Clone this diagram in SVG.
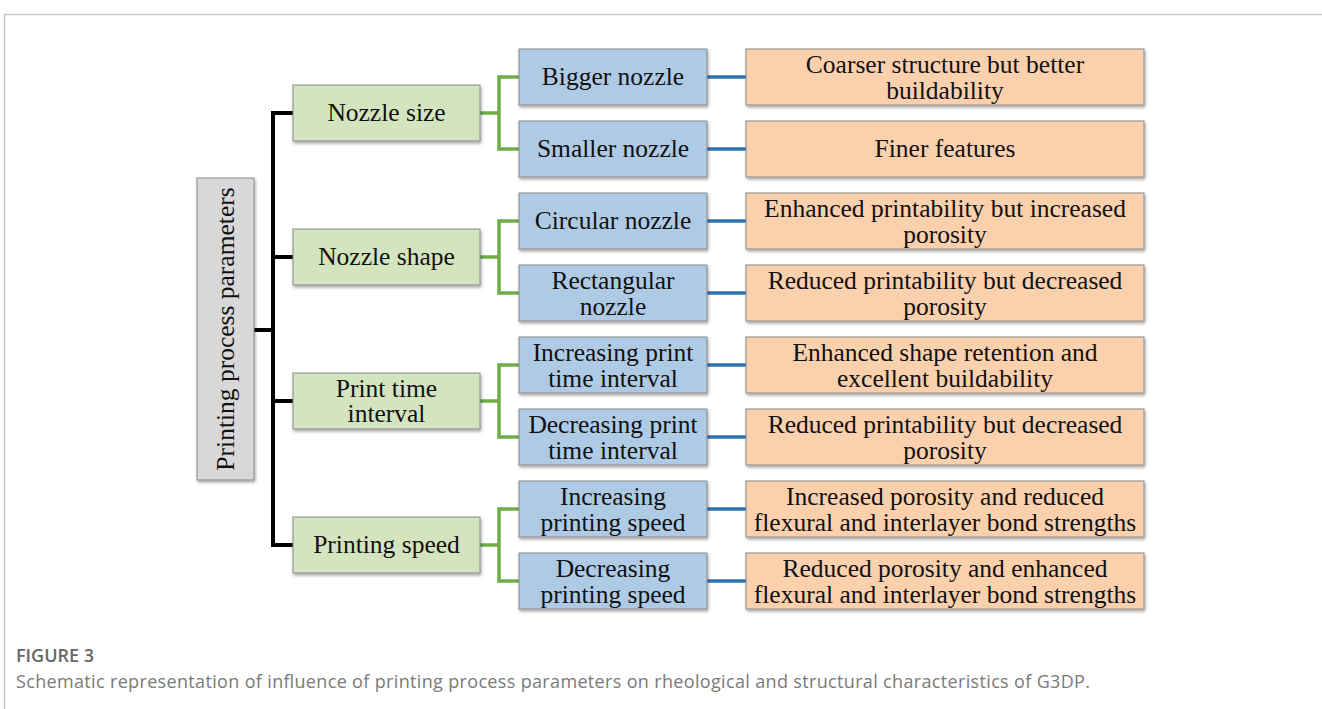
<svg xmlns="http://www.w3.org/2000/svg" width="1322" height="709" viewBox="0 0 1322 709">
<defs>
<filter id="sh" x="-5%" y="-10%" width="112%" height="130%">
<feDropShadow dx="1" dy="2" stdDeviation="1.5" flood-color="#000" flood-opacity="0.35"/>
</filter>
</defs>
<style>
.box{stroke:#8a8a8a;stroke-width:1;filter:url(#sh)}
.root{fill:#d8d8d8}
.l1{fill:#d3e4bf}
.l2{fill:#aecae5}
.l3{fill:#fbd0ad}
.t{font-family:"Liberation Serif","Times New Roman",serif;font-size:25.5px;fill:#111;text-anchor:middle}
.blk{stroke:#000;stroke-width:4;fill:none}
.grn{stroke:#70ad47;stroke-width:3.5;fill:none}
.blu{stroke:#2e75b6;stroke-width:3.5;fill:none}
.cap1{font-family:"Open Sans","Noto Sans",sans-serif;font-size:18px;font-weight:600;fill:#666}
.cap2{font-family:"Open Sans","Noto Sans",sans-serif;font-size:18px;fill:#7a7a7a}
</style>
<rect x="0" y="0" width="1322" height="709" fill="#fff"/>
<path d="M4.5 709 V14.5 H1322" fill="none" stroke="#c8c8c8" stroke-width="1.5"/>

<g id="connectors">
<path class="blk" d="M254 330 H273 M275 113 H293 M273 111 V547 M275 257 H293 M275 401 H293 M275 545 H293"/>
<path class="grn" d="M480 113 H499 M519 77 H499 V149 H519"/>
<path class="grn" d="M480 257 H499 M519 221 H499 V293 H519"/>
<path class="grn" d="M480 401 H499 M519 365 H499 V437 H519"/>
<path class="grn" d="M480 545 H499 M519 509 H499 V581 H519"/>
<path class="blu" d="M707 77 H746 M707 149 H746 M707 221 H746 M707 293 H746 M707 365 H746 M707 437 H746 M707 509 H746 M707 581 H746"/>
</g>

<g id="root">
<rect class="box root" x="197" y="178" width="57" height="302"/>
<text class="t" transform="translate(234 329) rotate(-90)" x="0" y="0">Printing process parameters</text>
</g>

<g id="nozzle-size"><rect class="box l1" x="293" y="85" width="187" height="56"/><text class="t" x="386.5" y="121">Nozzle size</text></g>
<g id="nozzle-shape"><rect class="box l1" x="293" y="229" width="187" height="56"/><text class="t" x="386.5" y="265">Nozzle shape</text></g>
<g id="print-time-interval"><rect class="box l1" x="293" y="373" width="187" height="56"/><text class="t" x="386.5" y="397">Print time</text><text class="t" x="386.5" y="422">interval</text></g>
<g id="printing-speed"><rect class="box l1" x="293" y="517" width="187" height="56"/><text class="t" x="386.5" y="553">Printing speed</text></g>

<g id="bigger-nozzle"><rect class="box l2" x="519" y="49" width="188" height="56"/><text class="t" x="613" y="85">Bigger nozzle</text></g>
<g id="smaller-nozzle"><rect class="box l2" x="519" y="121" width="188" height="56"/><text class="t" x="613" y="157">Smaller nozzle</text></g>
<g id="circular-nozzle"><rect class="box l2" x="519" y="193" width="188" height="56"/><text class="t" x="613" y="229">Circular nozzle</text></g>
<g id="rectangular-nozzle"><rect class="box l2" x="519" y="265" width="188" height="56"/><text class="t" x="613" y="289">Rectangular</text><text class="t" x="613" y="315">nozzle</text></g>
<g id="increasing-print-time"><rect class="box l2" x="519" y="337" width="188" height="56"/><text class="t" x="613" y="361">Increasing print</text><text class="t" x="613" y="387">time interval</text></g>
<g id="decreasing-print-time"><rect class="box l2" x="519" y="409" width="188" height="56"/><text class="t" x="613" y="433">Decreasing print</text><text class="t" x="613" y="459">time interval</text></g>
<g id="increasing-speed"><rect class="box l2" x="519" y="481" width="188" height="56"/><text class="t" x="613" y="505">Increasing</text><text class="t" x="613" y="531">printing speed</text></g>
<g id="decreasing-speed"><rect class="box l2" x="519" y="553" width="188" height="56"/><text class="t" x="613" y="577">Decreasing</text><text class="t" x="613" y="603">printing speed</text></g>

<g id="coarser"><rect class="box l3" x="746" y="49" width="398" height="56"/><text class="t" x="945" y="73">Coarser structure but better</text><text class="t" x="945" y="99">buildability</text></g>
<g id="finer"><rect class="box l3" x="746" y="121" width="398" height="56"/><text class="t" x="945" y="157">Finer features</text></g>
<g id="enhanced-printability"><rect class="box l3" x="746" y="193" width="398" height="56"/><text class="t" x="945" y="217">Enhanced printability but increased</text><text class="t" x="945" y="243">porosity</text></g>
<g id="reduced-printability-1"><rect class="box l3" x="746" y="265" width="398" height="56"/><text class="t" x="945" y="289">Reduced printability but decreased</text><text class="t" x="945" y="315">porosity</text></g>
<g id="shape-retention"><rect class="box l3" x="746" y="337" width="398" height="56"/><text class="t" x="945" y="361">Enhanced shape retention and</text><text class="t" x="945" y="387">excellent buildability</text></g>
<g id="reduced-printability-2"><rect class="box l3" x="746" y="409" width="398" height="56"/><text class="t" x="945" y="433">Reduced printability but decreased</text><text class="t" x="945" y="459">porosity</text></g>
<g id="increased-porosity"><rect class="box l3" x="746" y="481" width="398" height="56"/><text class="t" x="945" y="505">Increased porosity and reduced</text><text class="t" x="945" y="531">flexural and interlayer bond strengths</text></g>
<g id="reduced-porosity"><rect class="box l3" x="746" y="553" width="398" height="56"/><text class="t" x="945" y="577">Reduced porosity and enhanced</text><text class="t" x="945" y="603">flexural and interlayer bond strengths</text></g>

<g id="caption">
<text class="cap1" x="16" y="662">FIGURE 3</text>
<text class="cap2" x="16" y="688" textLength="1074" lengthAdjust="spacing">Schematic representation of influence of printing process parameters on rheological and structural characteristics of G3DP.</text>
</g>
</svg>
